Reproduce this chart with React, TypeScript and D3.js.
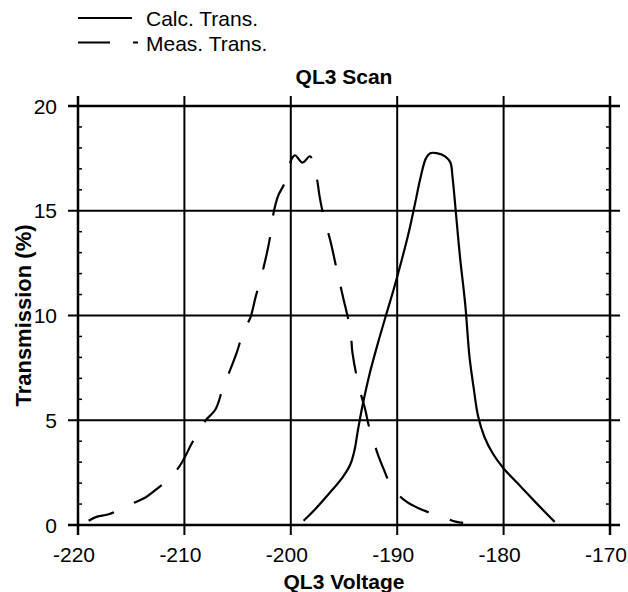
import React, { useEffect, useRef } from 'react';
import * as d3 from 'd3';

// QL3 voltage (V) and transmission (%)
const calcVoltage = [
  -198.8, -197.8, -196.4, -195.1, -194.4, -194.0, -193.7, -193.3, -192.6, -191.8,
  -191.0, -190.3, -189.6, -188.9, -188.3, -187.8, -187.3, -186.9, -186.3, -185.5,
  -185.0, -184.8, -184.5, -184.1, -183.6, -183.2, -182.8, -182.4, -181.8, -181.0,
  -180.0, -178.7, -177.4, -176.0, -175.2,
];
const calcTrans = [
  0.2, 0.7, 1.5, 2.3, 2.9, 3.6, 4.5, 5.6, 7.2, 8.7,
  10.1, 11.3, 12.6, 14.0, 15.4, 16.6, 17.5, 17.75, 17.75, 17.6,
  17.3, 16.6, 15.0, 12.8, 10.5, 8.0, 6.5, 5.2, 4.2, 3.4,
  2.7, 2.0, 1.3, 0.56, 0.15,
];

const measVoltage = [
  -219.0, -218.2, -217.2, -215.8, -214.8, -213.7, -212.4, -211.4, -210.6, -210.0,
  -209.3, -208.7, -208.0, -207.1, -206.4, -205.7, -205.1, -204.4, -203.8, -203.3,
  -202.7, -202.0, -201.7, -201.2, -200.6, -200.2, -199.9, -199.6, -198.9, -198.2,
  -197.9, -197.5, -197.3, -196.9, -196.3, -195.6, -195.1, -194.4, -194.2, -193.6,
  -193.0, -192.7, -192.1, -191.7, -191.3, -190.8, -190.0, -189.1, -188.0, -187.0,
  -185.6, -184.5, -183.8,
];
const measTrans = [
  0.2, 0.4, 0.5, 0.8, 1.05, 1.3, 1.8, 2.2, 2.7, 3.2,
  3.9, 4.4, 5.0, 5.5, 6.5, 7.4, 8.2, 9.3, 9.9, 10.9,
  12.0, 13.6, 14.7, 15.7, 16.3, 17.0, 17.5, 17.65, 17.3, 17.6,
  17.3, 16.4, 15.7, 14.7, 13.6, 12.0, 10.9, 9.3, 8.2, 6.6,
  5.5, 4.8, 3.8, 3.2, 2.7, 2.1, 1.5, 1.1, 0.8, 0.6,
  0.35, 0.16, 0.1,
];

const xTicks = [-220, -210, -200, -190, -180, -170];
const yTicks = [0, 5, 10, 15, 20];
const yMinorTicks = d3.range(0, 21, 1).filter(d => d % 5 !== 0);

const legendLabels = ['Calc. Trans.', 'Meas. Trans.'];

const FONT = "'Liberation Sans', Arial, sans-serif";

const App: React.FC = () => {
  const svgRef = useRef<SVGSVGElement | null>(null);

  useEffect(() => {
    const svg = d3.select(svgRef.current);
    svg.selectAll('*').remove();

    const left = 78, right = 610, top = 106, bottom = 525;

    const x = d3.scaleLinear().domain([-220, -170]).range([left, right]);
    const y = d3.scaleLinear().domain([0, 20]).range([bottom, top]);

    // grid lines, running past the frame as the major tick marks
    const grid = svg.append('g').attr('stroke', '#000');
    grid.selectAll('line.v')
      .data(xTicks)
      .join('line')
      .attr('class', 'v')
      .attr('x1', d => x(d)).attr('x2', d => x(d))
      .attr('y1', top - 10).attr('y2', bottom + 10)
      .attr('stroke-width', d => (d === -220 || d === -170 ? 2.5 : 2));
    grid.selectAll('line.h')
      .data(yTicks)
      .join('line')
      .attr('class', 'h')
      .attr('x1', left - 10).attr('x2', right + 10)
      .attr('y1', d => y(d)).attr('y2', d => y(d))
      .attr('stroke-width', d => (d === 0 || d === 20 ? 2.5 : 2));

    // minor y ticks, inward on both sides
    const minor = svg.append('g').attr('stroke', '#000').attr('stroke-width', 1.5);
    minor.selectAll('line.l')
      .data(yMinorTicks)
      .join('line')
      .attr('class', 'l')
      .attr('x1', left).attr('x2', left + 4)
      .attr('y1', d => y(d)).attr('y2', d => y(d));
    minor.selectAll('line.r')
      .data(yMinorTicks)
      .join('line')
      .attr('class', 'r')
      .attr('x1', right - 4).attr('x2', right)
      .attr('y1', d => y(d)).attr('y2', d => y(d));

    // tick labels
    svg.append('g')
      .selectAll('text')
      .data(xTicks)
      .join('text')
      .attr('x', d => x(d) - 4)
      .attr('y', 562)
      .attr('text-anchor', 'middle')
      .attr('font-family', FONT)
      .attr('font-size', 21)
      .text(d => d);

    svg.append('g')
      .selectAll('text')
      .data(yTicks)
      .join('text')
      .attr('x', 57)
      .attr('y', d => y(d) + 7.5)
      .attr('text-anchor', 'end')
      .attr('font-family', FONT)
      .attr('font-size', 21)
      .text(d => d);

    // curves
    const line = d3.line<[number, number]>()
      .curve(d3.curveCatmullRom.alpha(0.5));

    const calcPts = calcVoltage.map((v, i) => [x(v), y(calcTrans[i])] as [number, number]);
    const measPts = measVoltage.map((v, i) => [x(v), y(measTrans[i])] as [number, number]);

    svg.append('path')
      .attr('d', line(calcPts))
      .attr('fill', 'none')
      .attr('stroke', '#000')
      .attr('stroke-width', 2.2)
      .attr('stroke-linejoin', 'round');

    svg.append('path')
      .attr('d', line(measPts))
      .attr('fill', 'none')
      .attr('stroke', '#000')
      .attr('stroke-width', 2.2)
      .attr('stroke-dasharray', '33 22')
      .attr('stroke-dashoffset', 6);

    // titles
    svg.append('text')
      .attr('x', (left + right) / 2)
      .attr('y', 84)
      .attr('text-anchor', 'middle')
      .attr('font-family', FONT)
      .attr('font-weight', 'bold')
      .attr('font-size', 21)
      .text('QL3 Scan');

    svg.append('text')
      .attr('x', (left + right) / 2)
      .attr('y', 589)
      .attr('text-anchor', 'middle')
      .attr('font-family', FONT)
      .attr('font-weight', 'bold')
      .attr('font-size', 21)
      .text('QL3 Voltage');

    svg.append('text')
      .attr('transform', `translate(31,${(top + bottom) / 2}) rotate(-90)`)
      .attr('text-anchor', 'middle')
      .attr('font-family', FONT)
      .attr('font-weight', 'bold')
      .attr('font-size', 22)
      .text('Transmission (%)');

    // legend
    const legend = svg.append('g');
    legendLabels.forEach((label, i) => {
      const ly = 18 + i * 24.5;
      legend.append('line')
        .attr('x1', 78).attr('x2', i === 0 ? 132 : 138)
        .attr('y1', ly).attr('y2', ly)
        .attr('stroke', '#000')
        .attr('stroke-width', 2)
        .attr('stroke-dasharray', i === 0 ? null : '32 23');
      legend.append('text')
        .attr('x', 146)
        .attr('y', ly + 8)
        .attr('font-family', FONT)
        .attr('font-size', 21)
        .text(label);
    });
  }, []);

  return (
    <svg
      ref={svgRef}
      width={628}
      height={592}
      style={{ position: 'absolute', left: 0, top: 0, background: '#fff' }}
    />
  );
};

export default App;
